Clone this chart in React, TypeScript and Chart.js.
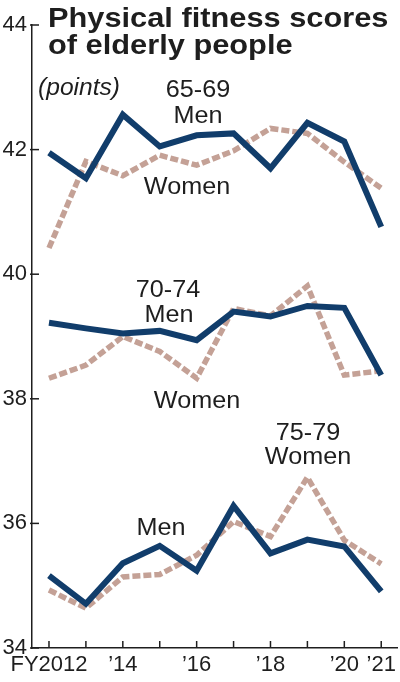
import { useEffect, useRef } from "react";
import { Chart, registerables } from "chart.js";

Chart.register(...registerables);

const years = [2012, 2013, 2014, 2015, 2016, 2017, 2018, 2019, 2020, 2021];
const yearLabels = ["FY2012", "", "’14", "", "’16", "", "’18", "", "’20", "’21"];

// 65-69
const men6569 = [41.95, 41.54, 42.56, 42.05, 42.23, 42.26, 41.7, 42.43, 42.13, 40.76];
const women6569 = [40.42, 41.81, 41.58, 41.91, 41.75, 41.98, 42.34, 42.26, 41.8, 41.38];
// 70-74
const men7074 = [39.22, 39.13, 39.05, 39.09, 38.94, 39.4, 39.32, 39.49, 39.46, 38.38];
const women7074 = [38.33, 38.54, 39.0, 38.76, 38.33, 39.45, 39.33, 39.81, 38.38, 38.45];
// 75-79
const men7579 = [35.16, 34.71, 35.36, 35.64, 35.24, 36.28, 35.52, 35.74, 35.63, 34.91];
const women7579 = [34.93, 34.64, 35.14, 35.18, 35.49, 36.03, 35.79, 36.74, 35.73, 35.35];

const yTicks = [34, 36, 38, 40, 42, 44];

const MEN = "#113d6b";
const WOMEN = "#c4a196";
const INK = "#1e1e1e";
const FONT = '"Liberation Sans", Arial, sans-serif';

const toPoints = (vals: number[]) => vals.map((v, i) => ({ x: years[i], y: v }));

const menStyle = {
  borderColor: MEN,
  borderWidth: 6,
  borderJoinStyle: "miter" as const,
  pointRadius: 0,
  tension: 0,
};
const womenStyle = {
  borderColor: WOMEN,
  borderWidth: 5.5,
  borderDash: [8, 3],
  borderCapStyle: "butt" as const,
  pointRadius: 0,
  tension: 0,
};

// text labels on the chart
const notes = [
  { text: "65-69", x: 198, y: 97 },
  { text: "Men", x: 198, y: 123 },
  { text: "Women", x: 187, y: 194 },
  { text: "70-74", x: 168, y: 297 },
  { text: "Men", x: 169, y: 322 },
  { text: "Women", x: 197, y: 408 },
  { text: "75-79", x: 308, y: 440 },
  { text: "Women", x: 308, y: 464 },
  { text: "Men", x: 161, y: 535 },
];

// text in the reference is a little wider than the font, so stretch it
function stretchText(ctx: CanvasRenderingContext2D, text: string, x: number, y: number, sx: number) {
  ctx.save();
  ctx.translate(x, y);
  ctx.scale(sx, 1);
  ctx.fillText(text, 0, 0);
  ctx.restore();
}

const decorations = {
  id: "decorations",
  afterDraw(chart: any) {
    const { ctx, chartArea, scales } = chart;
    ctx.save();
    // inward ticks
    ctx.strokeStyle = INK;
    ctx.lineWidth = 1.5;
    yTicks.forEach((v) => {
      const py = scales.y.getPixelForValue(v);
      ctx.beginPath();
      ctx.moveTo(chartArea.left - 2, py);
      ctx.lineTo(chartArea.left + 7, py);
      ctx.stroke();
    });
    years.forEach((v) => {
      const px = scales.x.getPixelForValue(v);
      ctx.beginPath();
      ctx.moveTo(px, chartArea.bottom);
      ctx.lineTo(px, chartArea.bottom - 7);
      ctx.stroke();
    });

    ctx.fillStyle = INK;
    ctx.textBaseline = "alphabetic";
    // title
    ctx.font = `bold 27px ${FONT}`;
    ctx.textAlign = "left";
    stretchText(ctx, "Physical fitness scores", 48, 27, 1.14);
    stretchText(ctx, "of elderly people", 48, 54, 1.14);
    // unit
    ctx.font = `italic 23px ${FONT}`;
    stretchText(ctx, "(points)", 38, 95, 1.07);
    // series labels
    ctx.font = `24px ${FONT}`;
    ctx.textAlign = "center";
    notes.forEach((n) => stretchText(ctx, n.text, n.x, n.y, 1.05));
    ctx.restore();
  },
};

export default function App() {
  const chartRef = useRef<HTMLCanvasElement | null>(null);

  useEffect(() => {
    document.body.style.margin = "0";
    if (!chartRef.current) return;

    const chart = new Chart(chartRef.current, {
      type: "line",
      data: {
        datasets: [
          { ...menStyle, data: toPoints(men6569) },
          { ...menStyle, data: toPoints(men7074) },
          { ...menStyle, data: toPoints(men7579) },
          { ...womenStyle, data: toPoints(women6569) },
          { ...womenStyle, data: toPoints(women7074) },
          { ...womenStyle, data: toPoints(women7579) },
        ],
      },
      options: {
        animation: false,
        responsive: true,
        maintainAspectRatio: false,
        layout: { padding: { top: 25, right: 2, left: 0, bottom: 0 } },
        plugins: {
          legend: { display: false },
          tooltip: { enabled: false },
        },
        scales: {
          x: {
            type: "linear",
            min: 2011.54,
            max: 2021.43,
            afterBuildTicks: (scale: any) => {
              scale.ticks = years.map((v) => ({ value: v }));
            },
            afterFit: (scale: any) => {
              scale.height = 34;
            },
            ticks: {
              autoSkip: false,
              maxRotation: 0,
              padding: 4,
              color: INK,
              font: { family: FONT, size: 22 },
              callback: (v: any) => yearLabels[years.indexOf(Number(v))] ?? "",
            },
            grid: { display: true, drawOnChartArea: false, drawTicks: false },
            border: { display: true, color: INK, width: 1.5 },
          },
          y: {
            min: 34,
            max: 44,
            afterBuildTicks: (scale: any) => {
              scale.ticks = yTicks.map((v) => ({ value: v }));
            },
            afterFit: (scale: any) => {
              scale.width = 32;
            },
            ticks: {
              padding: 5,
              color: INK,
              font: { family: FONT, size: 22 },
            },
            grid: { display: true, drawOnChartArea: false, drawTicks: false },
            border: { display: true, color: INK, width: 1.5 },
          },
        },
      },
      plugins: [decorations],
    });

    return () => chart.destroy();
  }, []);

  return (
    <div style={{ position: "relative", width: 400, height: 682, background: "#fff" }}>
      <canvas ref={chartRef} />
    </div>
  );
}
